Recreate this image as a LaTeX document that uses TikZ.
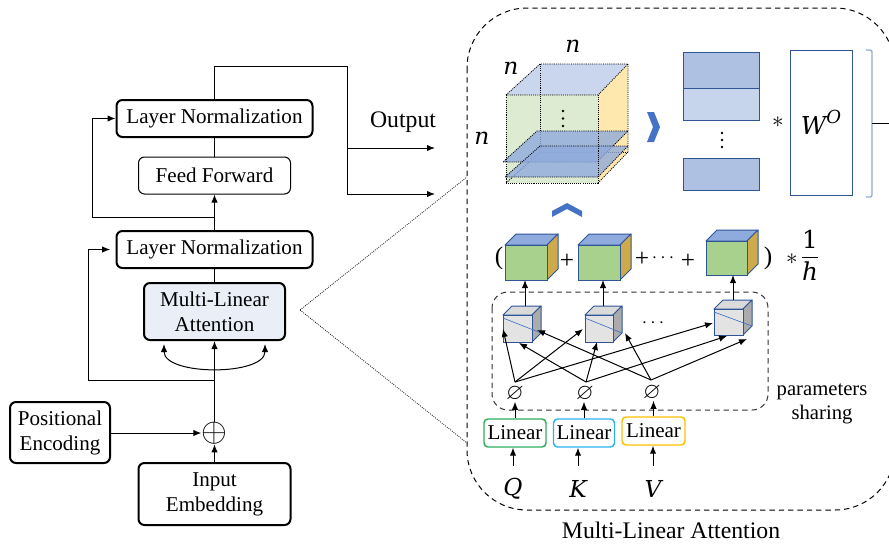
\documentclass[tikz,border=0pt]{standalone}
\usepackage{amssymb}
\usepackage{fontspec}
\setmainfont{Liberation Serif}
\newfontfamily\mathlike{DejaVu Serif}
\usetikzlibrary{arrows.meta}
\definecolor{dblue}{HTML}{2F5597}
\definecolor{mblue}{HTML}{4472C4}
\definecolor{mlafill}{HTML}{E9EEF7}
\definecolor{topface}{HTML}{CAD6EE}
\definecolor{frontface}{HTML}{DEEBD3}
\definecolor{rightface}{HTML}{FFE8AE}
\definecolor{slicefill}{HTML}{8FAADC}
\definecolor{rectA}{HTML}{AFC1E3}
\definecolor{rectB}{HTML}{C6D4EC}
\definecolor{cfront}{HTML}{A9D18E}
\definecolor{ctop}{HTML}{8FAADC}
\definecolor{cright}{HTML}{CDAA4C}
\definecolor{gfront}{HTML}{E4E3E3}
\definecolor{gtop}{HTML}{DADADA}
\definecolor{gright}{HTML}{ABABAB}
\definecolor{lingreen}{HTML}{2EAD5E}
\definecolor{linblue}{HTML}{2DB2EC}
\definecolor{linyellow}{HTML}{FFC000}
\definecolor{bracketc}{HTML}{8FAADC}
\newcommand{\drawcube}[8]{%
  \filldraw[fill=#7, draw=dblue, line width=0.75pt, line join=round] (#1,#2) -- ({#1+#5},{#2-#5}) -- ({#1+#3+#5},{#2-#5}) -- ({#1+#3},{#2}) -- cycle;
  \filldraw[fill=#8, draw=dblue, line width=0.75pt, line join=round] ({#1+#3},{#2}) -- ({#1+#3+#5},{#2-#5}) -- ({#1+#3+#5},{#2+#4-#5}) -- ({#1+#3},{#2+#4}) -- cycle;
  \filldraw[fill=#6, draw=dblue, line width=0.75pt] (#1,#2) rectangle ({#1+#3},{#2+#4});
}
\tikzset{
  basefont/.style={font=\fontsize{15.8}{18.75}\selectfont},
  arr/.style={-{Latex[length=6pt,width=4.8pt]}, line width=0.75pt},
  darr/.style={{Latex[length=6pt,width=4.8pt]}-{Latex[length=6pt,width=4.8pt]}, line width=0.75pt},
  plainline/.style={line width=0.75pt},
  mainbox/.style={draw, rounded corners=4.5pt, line width=1.5pt, inner sep=0pt, align=center, basefont},
  thinbox/.style={draw, rounded corners=4.5pt, line width=0.75pt, inner sep=0pt, align=center, basefont},
  linbox/.style={draw, rounded corners=3pt, line width=1.1pt, inner sep=0pt, basefont, minimum height=21pt},
  dotedge/.style={dash pattern=on 0.8pt off 0.8pt, line width=0.6pt},
  zoomline/.style={dash pattern=on 0.7pt off 0.9pt, line width=0.5pt},
  bigdash/.style={dash pattern=on 4pt off 3pt, line width=0.75pt},
  mathlbl/.style={font=\fontsize{17.5}{17.5}\selectfont\mathlike\itshape, inner sep=0pt},
  symb/.style={font=\fontsize{19}{19}\selectfont, inner sep=0pt},
  bluerect/.style={draw=dblue, line width=0.75pt, inner sep=0pt, minimum width=57pt},
  esym/.style={inner sep=0pt, font=\fontsize{17}{17}\selectfont},
}
\begin{document}
\begin{tikzpicture}[x=0.75pt,y=-0.75pt]
\useasboundingbox (0,0) rectangle (889,544);
\clip (0,0) rectangle (889,544);

% ---------------- left: encoder block ----------------
\node[mainbox, minimum width=147pt, minimum height=27.75pt] (LN1) at (214.5,118.5) {Layer Normalization};
\node[thinbox, minimum width=114pt, minimum height=27.75pt] (FF) at (214.5,175.5) {Feed Forward};
\node[mainbox, minimum width=147pt, minimum height=27.75pt] (LN2) at (214.5,249.5) {Layer Normalization};
\node[mainbox, fill=mlafill, minimum width=105.75pt, minimum height=42.75pt] (MLA) at (214.5,311.5) {Multi-Linear\\Attention};
\node[mainbox, minimum width=75pt, minimum height=45.75pt] (PE) at (60,432.5) {Positional\\Encoding};
\node[mainbox, minimum width=114pt, minimum height=46.5pt] (IE) at (214.5,494) {Input\\Embedding};
\node[inner sep=0pt, font=\fontsize{23}{23}\selectfont] (plus) at (214.5,433) {$\oplus$};

\draw[arr] (IE.north) -- (plus.south);
\draw[arr] (PE.east |- plus.west) -- (plus.west);
\draw[arr] (plus.north) -- (MLA.south);
\coordinate (b1) at (214.5,380);
\coordinate (s1) at (88,380);
\draw[arr, shorten >=4pt] (b1) -- (s1) |- (LN2.west);
\coordinate (cl) at (164,344);
\coordinate (cr) at (265,344);
\draw[darr] (cl) .. controls (164,376) and (265,376) .. (cr);
\draw[plainline] (MLA.north) -- (LN2.south);
\draw[arr] (LN2.north) -- (FF.south);
\coordinate (b2) at (214.5,217);
\coordinate (s2) at (92,217);
\draw[arr] (b2) -- (s2) |- (LN1.west);
\draw[plainline] (FF.north) -- (LN1.south);
\coordinate (t1) at (214.5,66);
\coordinate (t2) at (347,66);
\coordinate (t3) at (347,194);
\coordinate (t4) at (347,148);
\coordinate (o1) at (435,148);
\coordinate (o2) at (435,194);
\draw[plainline] (LN1.north) -- (t1) -- (t2) -- (t3);
\draw[arr] (t4) -- (o1);
\draw[arr] (t3) -- (o2);
\node[font=\fontsize{17.8}{20}\selectfont] (out) at (403,122) {Output};

% zoom lines
\coordinate (z0) at (300,310);
\coordinate (z1) at (467,177);
\coordinate (z2) at (467,443);
\draw[zoomline] (z0) -- (z1);
\draw[zoomline] (z0) -- (z2);

% ---------------- right: big dashed box ----------------
\draw[bigdash, rounded corners=45pt] (467,8) rectangle (895,510);
\node[font=\fontsize{17.8}{20}\selectfont] (cap) at (671,530) {Multi-Linear Attention};

% big cube
\fill[topface] (506,95) -- (540,64) -- (628,64) -- (598,95) -- cycle;
\fill[rightface] (598,95) -- (628,64) -- (628,152) -- (598,183) -- cycle;
\fill[frontface] (506,95) rectangle (598,183);
\draw[dotedge] (540,64) -- (540,152) -- (628,152);
\draw[dotedge] (540,152) -- (506,183);
\filldraw[fill=slicefill, fill opacity=0.8, draw=black, dotedge] (503,162) -- (597,162) -- (628,131) -- (537,131) -- cycle;
\filldraw[fill=slicefill, fill opacity=0.8, draw=black, dotedge] (505,177) -- (598,177) -- (628,146) -- (540,146) -- cycle;
\draw[dotedge] (506,95) -- (540,64) -- (628,64) -- (598,95) -- cycle;
\draw[dotedge] (598,95) -- (598,183) -- (506,183) -- (506,95);
\draw[dotedge] (628,64) -- (628,152) -- (598,183);
\foreach \yy in {111,118.5,126} \fill (563,\yy) circle[radius=1.4];
\node[mathlbl] (n1) at (573,46) {n};
\node[mathlbl] (n2) at (511,68) {n};
\node[mathlbl] (n3) at (482,138) {n};

% chevrons
\fill[mblue] (647,112) -- (654,112) -- (660,127) -- (654,142) -- (647,142) -- (653,127) -- cycle;
\fill[mblue] (552,211) -- (567,203) -- (582,211) -- (582,217) -- (567,209) -- (552,217) -- cycle;

% stacked rows
\node[bluerect, fill=rectA, minimum height=27pt] (R1) at (721,70) {};
\node[bluerect, fill=rectB, minimum height=24pt] (R2) at (721,104) {};
\node[bluerect, fill=rectA, minimum height=24pt] (R3) at (721,174) {};
\foreach \yy in {133,140,147} \fill (722,\yy) circle[radius=1.4];
\node[inner sep=0pt, font=\fontsize{16}{16}\selectfont] (star1) at (778,122) {$\ast$};
\node[draw=dblue, line width=0.75pt, inner sep=0pt, minimum width=46.5pt, minimum height=108.75pt, font=\fontsize{18.5}{18.5}\selectfont\mathlike\itshape] (Wbox) at (821,122.5) {W\raisebox{0.45em}{\fontsize{13.5}{13.5}\selectfont O}};
\draw[bracketc, line width=1pt, rounded corners=1.5pt] (866,50) -- (872,50) -- (872,197) -- (866,197);
\coordinate (bm) at (872,123);
\coordinate (bend) at (895,123);
\draw[plainline] (bm) -- (bend);

% colored cubes row
\node[symb] (lp) at (499,258) {(};
\drawcube{505}{245}{42}{35}{11}{cfront}{ctop}{cright}
\node[symb] (pl1) at (567,261) {+};
\drawcube{578}{245}{42}{35}{11}{cfront}{ctop}{cright}
\node[symb] (pl2) at (642,259) {+};
\node[inner sep=0pt, font=\fontsize{15}{15}\selectfont] (hd) at (663,258) {$\cdots$};
\node[symb] (pl3) at (688,261) {+};
\drawcube{706}{241}{41}{34}{11}{cfront}{ctop}{cright}
\node[symb] (rp) at (768,258) {)};
\node[inner sep=0pt, font=\fontsize{16}{16}\selectfont] (star2) at (792,259) {$\ast$};
\node[inner sep=0pt, font=\fontsize{18.5}{18.5}\selectfont] (frac) at (810,255) {$\displaystyle\frac{\mbox{\mathlike 1}}{\mbox{\mathlike\itshape h}}$};

% parameter sharing box
\draw[bigdash, draw=black!80, rounded corners=12pt] (492,292) rectangle (768,410);
\node[align=center, inner sep=0pt, font=\fontsize{15.5}{18}\selectfont] (ps) at (822,404) {parameters\\sharing};

% grey cubes
\drawcube{503}{315}{29}{27}{9}{gfront}{gtop}{gright}
\draw[mblue, line width=0.5pt] (503,318) -- (541,333);
\drawcube{585}{315}{28}{27}{9}{gfront}{gtop}{gright}
\draw[mblue, line width=0.5pt] (585,318) -- (622,333);
\drawcube{714}{309}{29}{26}{9}{gfront}{gtop}{gright}
\draw[mblue, line width=0.5pt] (714,312) -- (752,326);
\node[inner sep=0pt, font=\fontsize{15}{15}\selectfont] (gd) at (653,323) {$\cdots$};

% grey -> colored
\coordinate (g1t) at (525,306); \coordinate (c1b) at (525,280);
\coordinate (g2t) at (603,306); \coordinate (c2b) at (603,280);
\coordinate (g3t) at (733,300); \coordinate (c3b) at (733,275);
\draw[arr] (g1t) -- (c1b);
\draw[arr] (g2t) -- (c2b);
\draw[arr] (g3t) -- (c3b);

% fan-out
\coordinate (p1) at (515,382);
\coordinate (p2) at (586,382);
\coordinate (p3) at (651,380);
\coordinate (aL) at (503,329); \coordinate (bL) at (583,329); \coordinate (cL) at (713,323);
\coordinate (aB) at (519,343); \coordinate (bB) at (597,342); \coordinate (cB) at (727,336);
\coordinate (aR) at (537,330); \coordinate (bR) at (625,333); \coordinate (cR) at (747,339);
\draw[arr] (p1) -- (aL);
\draw[arr] (p1) -- (bL);
\draw[arr] (p1) -- (cL);
\draw[arr] (p2) -- (aB);
\draw[arr] (p2) -- (bB);
\draw[arr] (p2) -- (cB);
\draw[arr] (p3) -- (aR);
\draw[arr] (p3) -- (bR);
\draw[arr] (p3) -- (cR);

% empty-set nodes
\node[esym] (e1) at (515,394) {$\varnothing$};
\node[esym] (e2) at (585,394) {$\varnothing$};
\node[esym] (e3) at (652,393) {$\varnothing$};

% linear boxes
\node[linbox, draw=lingreen, minimum width=46.5pt] (L1) at (515,433) {Linear};
\node[linbox, draw=linblue, minimum width=45.75pt] (L2) at (584,433) {Linear};
\node[linbox, draw=linyellow, minimum width=47.25pt] (L3) at (653.5,431) {Linear};
\draw[arr] (L1.north) -- (L1.north |- e1.south);
\draw[arr] (L2.north) -- (L2.north |- e2.south);
\draw[arr] (L3.north) -- (L3.north |- e3.south);

% Q K V
\node[mathlbl] (Q) at (513,489) {Q};
\node[mathlbl] (K) at (578,489) {K};
\node[mathlbl] (V) at (653,489) {V};
\coordinate (qt) at (513,466);
\coordinate (kt) at (578,466);
\coordinate (vt) at (653,466);
\draw[arr] (qt) -- (qt |- L1.south);
\draw[arr] (kt) -- (kt |- L2.south);
\draw[arr] (vt) -- (vt |- L3.south);
\end{tikzpicture}
\end{document}
